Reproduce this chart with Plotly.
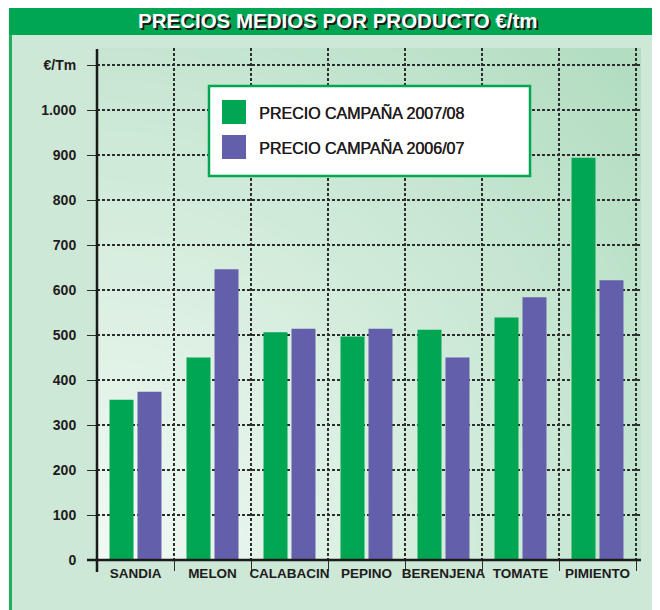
import plotly.graph_objects as go

productos = ["SANDIA", "MELON", "CALABACIN", "PEPINO", "BERENJENA", "TOMATE", "PIMIENTO"]
precio_2007_08 = [356, 450, 506, 497, 512, 539, 894]
precio_2006_07 = [374, 646, 514, 514, 450, 584, 622]
serie_nombres = ["PRECIO CAMPAÑA 2007/08", "PRECIO CAMPAÑA 2006/07"]
serie_colores = ["#00a651", "#645fab"]

y_tickvals = [0, 100, 200, 300, 400, 500, 600, 700, 800, 900, 1000, 1100]
y_ticktext = ["0", "100", "200", "300", "400", "500", "600", "700", "800", "900", "1.000", "€/Tm"]

titulo = "PRECIOS MEDIOS POR PRODUCTO €/tm"

W, H = 660, 610
# the page body adds an 8px offset, so positions below are in window pixels
OFF = 8
L, R, T, B = 97 - OFF, 660 - 641 + OFF, 48 - OFF, 610 - 560 + OFF
PW, PH = W - L - R, H - T - B
FONT = "Liberation Sans, Arial, sans-serif"
INK = "#1f1b1c"


def px(x):
    return (x - OFF - L) / PW


def py(y):
    return (H - B - (y - OFF)) / PH


def mix(c0, c1, f):
    return "rgb({},{},{})".format(*[round(a + (b - a) * f) for a, b in zip(c0, c1)])


fig = go.Figure()

for nombre, valores, color in zip(serie_nombres, [precio_2007_08, precio_2006_07], serie_colores):
    fig.add_trace(
        go.Bar(
            x=productos,
            y=valores,
            name=nombre,
            marker={"color": color, "line": {"width": 0}},
            showlegend=False,
        )
    )

shapes = []
# page panel + title band
shapes.append(dict(type="rect", xref="paper", yref="paper", x0=px(9), x1=px(W + 20),
                   y0=py(35), y1=py(H + 20), fillcolor="#cde8d6", line_width=0, layer="below"))
shapes.append(dict(type="rect", xref="paper", yref="paper", x0=px(9), x1=px(W + 20),
                   y0=py(0), y1=py(35), fillcolor="#00a651", line_width=0, layer="below"))
shapes.append(dict(type="line", xref="paper", yref="paper", x0=px(10.5), x1=px(10.5),
                   y0=py(35), y1=py(H + 20), line={"color": "#1fae5c", "width": 3}, layer="below"))

# radial background gradient from lower-left corner of the plot
light, dark = (243, 250, 245), (174, 219, 190)
rmax = 780
for r in range(rmax, 0, -10):
    shapes.append(dict(type="circle", xref="x", yref="y", xsizemode="pixel", ysizemode="pixel",
                       xanchor=-0.5, yanchor=0, x0=-r, x1=r, y0=-r, y1=r,
                       fillcolor=mix(light, dark, r / rmax), line_width=0, layer="below"))

# axis lines
shapes.append(dict(type="line", xref="paper", yref="paper", x0=px(87), x1=px(641),
                   y0=0, y1=0, line={"color": "#1a1a1a", "width": 2.5}, layer="above"))
shapes.append(dict(type="line", xref="paper", yref="paper", x0=0, x1=0,
                   y0=py(572), y1=py(49), line={"color": "#1a1a1a", "width": 2.5}, layer="above"))

# legend box
shapes.append(dict(type="rect", xref="paper", yref="paper", x0=px(209), x1=px(530),
                   y0=py(176), y1=py(86), fillcolor="white",
                   line={"color": "#00a651", "width": 2.5}, layer="above"))
annotations = []
for i, (nombre, color) in enumerate(zip(serie_nombres, serie_colores)):
    top = 100 + i * 35
    shapes.append(dict(type="rect", xref="paper", yref="paper", x0=px(222), x1=px(246),
                       y0=py(top + 24), y1=py(top), fillcolor=color, line_width=0, layer="above"))
    annotations.append(dict(x=px(257), y=py(top + 12), xref="paper", yref="paper", text=nombre,
                            showarrow=False, xanchor="left", yanchor="middle",
                            font={"family": FONT, "size": 16, "color": INK,
                                  "shadow": "0.5px 0px 0px #1f1b1c"}))

annotations.append(dict(x=px(337), y=py(20), xref="paper", yref="paper", text=titulo,
                        showarrow=False, xanchor="center", yanchor="middle",
                        font={"family": FONT, "size": 20.5, "color": "white", "weight": "bold",
                              "shadow": "2px 2px 0px #1a1a1a"}))

fig.update_layout(
    width=W,
    height=H,
    margin={"l": L, "r": R, "t": T, "b": B, "pad": 0, "autoexpand": False},
    paper_bgcolor="#f5f5f5",
    plot_bgcolor="rgba(0,0,0,0)",
    barmode="group",
    bargap=0.273,
    bargroupgap=0.143,
    shapes=shapes,
    annotations=annotations,
    font={"family": FONT, "color": INK},
)

fig.update_xaxes(
    type="category",
    range=[-0.5, 6.565],
    tickson="boundaries",
    tickangle=0,
    automargin=False,
    showgrid=True,
    gridcolor="#2e2e2e",
    gridwidth=1.5,
    griddash="3px,2px",
    ticks="outside",
    ticklen=10,
    tickwidth=1.2,
    tickcolor="#2e2e2e",
    ticklabelstandoff=3,
    showline=False,
    zeroline=False,
    tickfont={"family": FONT, "size": 13.5, "color": INK, "weight": "bold"},
)

fig.update_yaxes(
    range=[0, 1138],
    tickvals=y_tickvals,
    ticktext=y_ticktext,
    automargin=False,
    showgrid=True,
    gridcolor="#2e2e2e",
    gridwidth=1.5,
    griddash="3px,2px",
    ticks="outside",
    ticklen=9,
    tickwidth=1.2,
    tickcolor="#2e2e2e",
    ticklabelstandoff=8,
    showline=False,
    zeroline=False,
    tickfont={"family": FONT, "size": 14, "color": INK, "weight": "bold"},
)

fig.write_html("out.html")
